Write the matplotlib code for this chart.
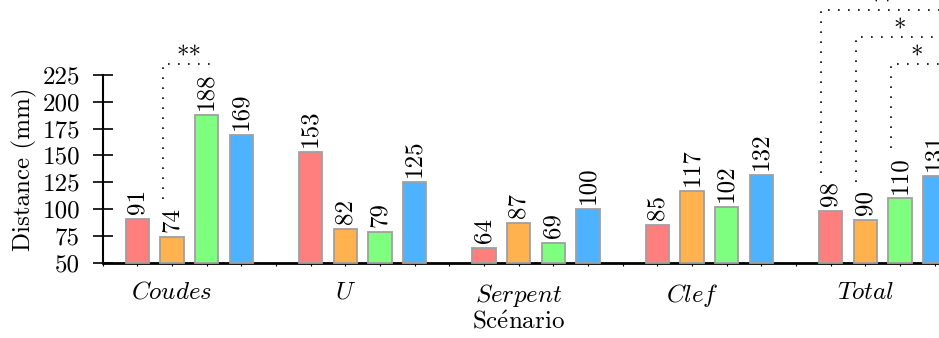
import matplotlib
matplotlib.use("Agg")
import matplotlib.pyplot as plt
import numpy as np

plt.rcParams['font.family'] = ['cmr10']
plt.rcParams['mathtext.fontset'] = 'cm'
plt.rcParams['axes.formatter.use_mathtext'] = True
plt.rcParams['font.size'] = 18

# ---- data ----
categories = ["Coudes", "U", "Serpent", "Clef", "Total"]
series_a = [91, 153, 64, 85, 98]    # red
series_b = [74, 82, 87, 117, 90]    # orange
series_c = [188, 79, 69, 102, 110]  # green
series_d = [169, 125, 100, 132, 131]  # blue
series = [series_a, series_b, series_c, series_d]
colors = ["#FF7F7F", "#FFB24D", "#7FFF7F", "#4DB2FF"]
yticks = [50, 75, 100, 125, 150, 175, 200, 225]

# significance brackets: (group index, series i, series j, label, level)
brackets = [
    (0, 1, 2, "**", 235),
    (4, 0, 3, "**", 285),
    (4, 1, 3, "*", 260),
    (4, 2, 3, "*", 235),
]

W, H = 939, 338
fig = plt.figure(figsize=(W / 100, H / 100), dpi=100)
ax_left = 102.6 / W
ax_bottom = (H - 263) / H
ax_height = (263 - 74.7) / H
slot = 34.67
xmax = 25
ax_width = slot * xmax / W
ax = fig.add_axes([ax_left, ax_bottom, ax_width, ax_height])

ymin, ymax = 50, 225
ax.set_xlim(0, xmax)
ax.set_ylim(ymin, ymax)
px_per_unit = (263 - 74.7) / (ymax - ymin)

def xpos(g, s):
    return 5 * g + 1 + s

bw = 0.67
for s, vals in enumerate(series):
    xs = [xpos(g, s) for g in range(len(categories))]
    ax.bar(xs, [v - ymin for v in vals], bottom=ymin, width=bw, color=colors[s],
           edgecolor="#A0A0A0", linewidth=1.3, zorder=3, clip_on=False)
    for x, v in zip(xs, vals):
        ax.annotate(str(v), (x, v), xytext=(0, 3.5), textcoords="offset points",
                    rotation=90, ha="center", va="bottom", fontsize=18,
                    annotation_clip=False)

# brackets
off = 0.27
for g, i, j, lab, lvl in brackets:
    xi = xpos(g, i) - off
    xj = xpos(g, j) + 0.23
    vi = series[i][g]
    vj = series[j][g]
    bi = vi + (5 + 12.5 * len(str(vi)) + 8) / px_per_unit
    bj = vj + (5 + 12.5 * len(str(vj)) + 8) / px_per_unit
    kw = dict(color="black", linewidth=1.2, linestyle=(0, (1, 5)), clip_on=False, zorder=4)
    ax.plot([xi, xi, xj], [bi, lvl, lvl], **kw)
    if bj < lvl:
        ax.plot([xj, xj], [lvl, bj], **kw)
    ax.annotate(lab, ((xi + xj) / 2, lvl), xytext=(0, -3), textcoords="offset points",
                ha="center", va="bottom", fontsize=18, annotation_clip=False)

# axes styling
for sp in ["top", "right"]:
    ax.spines[sp].set_visible(False)
ax.spines["left"].set_linewidth(1.5)
ax.spines["bottom"].set_linewidth(2.0)
ax.spines["left"].set_bounds(ymin, ymax)

ax.set_yticks(yticks)
ax.set_yticklabels([str(t) for t in yticks])
ax.tick_params(axis="y", direction="inout", length=14.5, width=1.2, pad=9, labelsize=18)

ax.set_xticks([5 * g + 2 for g in range(len(categories))])
ax.set_xticklabels(["$" + c + "$" for c in categories])
ax.set_xticks(np.arange(0, xmax + 1), minor=True)
ax.tick_params(axis="x", which="both", direction="out", length=2.5, width=0.8, pad=11, labelsize=18)

ax.set_ylabel("Distance (mm)", fontsize=18, labelpad=4)
ax.set_xlabel(r"$\mathrm{Sc\acute{e}nario}$", fontsize=18, labelpad=2)
ax.xaxis.set_label_coords(12 / xmax, -0.255)
ax.xaxis.label.set_va("top")

fig.savefig("out.png", dpi=100)
